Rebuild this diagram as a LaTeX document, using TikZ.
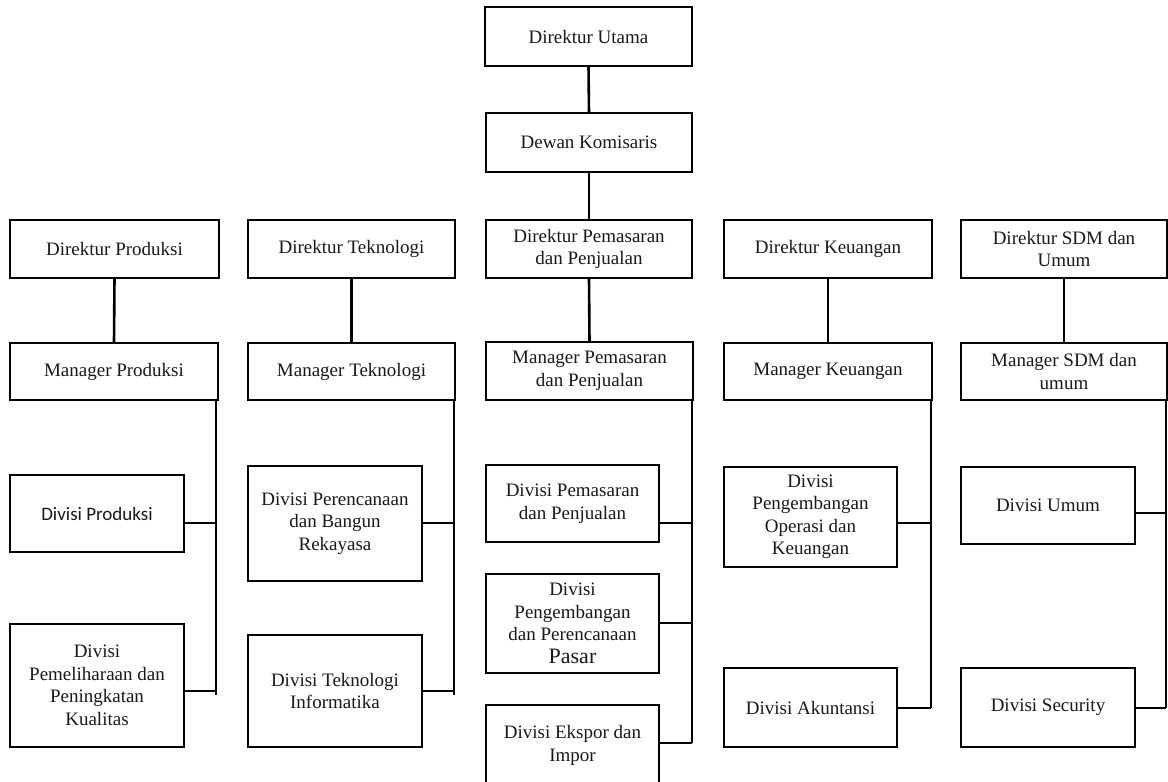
\documentclass[tikz,border=0pt]{standalone}
\usepackage{fontspec}
\setmainfont{Liberation Serif}
\newfontfamily\calfont{Carlito}
\newcommand\orgbox[6]{\node[box, minimum width={(#4-#2)*1pt}, minimum height={(#5-#3)*1pt}] (#1) at ({(#2+#4)/2},{(#3+#5)/2}) {#6};}
\begin{document}
\begin{tikzpicture}[x=1pt,y=-1pt,
  box/.style={draw=black, line width=2.6pt, fill=white, inner sep=0pt, outer sep=0pt, align=center,
    font=\fontsize{19}{22.5}\selectfont, text=black!90},
  link/.style={draw=black, line width=2.6pt}]
\useasboundingbox (0,0) rectangle (1168,782);
% top
\orgbox{du}{485}{7}{692}{66}{Direktur Utama}
\orgbox{dk}{486}{113}{692}{172}{Dewan Komisaris}
% directors
\orgbox{dprod}{10}{220}{219}{278}{Direktur Produksi}
\orgbox{dtek}{248}{220}{455}{278}{Direktur Teknologi}
\orgbox{dpem}{486}{220}{692}{278}{Direktur Pemasaran\\dan Penjualan}
\orgbox{dkeu}{724}{220}{932}{278}{Direktur Keuangan}
\orgbox{dsdm}{961}{220}{1167}{278}{Direktur SDM dan\\Umum}
% managers
\orgbox{mprod}{10}{343}{218}{400}{Manager Produksi}
\orgbox{mtek}{248}{343}{455}{400}{Manager Teknologi}
\orgbox{mpem}{486}{342}{693}{400}{Manager Pemasaran\\dan Penjualan}
\orgbox{mkeu}{724}{343}{932}{400}{Manager Keuangan}
\orgbox{msdm}{961}{343}{1167}{400}{Manager SDM dan\\umum}
% divisions
\orgbox{divprod}{10}{475}{184}{552}{\calfont Divisi Produksi}
\orgbox{divpem}{10}{624}{184}{747}{Divisi\\Pemeliharaan dan\\Peningkatan\\Kualitas}
\orgbox{divren}{248}{466}{422}{581}{Divisi Perencanaan\\dan Bangun\\Rekayasa}
\orgbox{divti}{248}{635}{422}{747}{Divisi Teknologi\\Informatika}
\orgbox{divpp}{486}{465}{659}{542}{Divisi Pemasaran\\dan Penjualan}
\orgbox{divppp}{486}{574}{659}{673}{Divisi\\Pengembangan\\dan Perencanaan\\{\fontsize{22}{24}\selectfont Pasar}}
\orgbox{divei}{486}{705}{659}{786}{Divisi Ekspor dan\\Impor}
\orgbox{divpok}{724}{467}{897}{567}{Divisi\\Pengembangan\\Operasi dan\\Keuangan}
\orgbox{divak}{724}{668}{897}{747}{Divisi Akuntansi}
\orgbox{divum}{961}{467}{1135}{544}{Divisi Umum}
\orgbox{divsec}{961}{668}{1135}{747}{Divisi Security}
% vertical links
\draw[link] (du.south) -- (dk.north);
\draw[link] (dk.south) -- (dpem.north);
\draw[link] (dprod.south) -- (mprod.north);
\draw[link] (dtek.south) -- (mtek.north);
\draw[link] (dpem.south) -- (mpem.north);
\draw[link] (dkeu.south) -- (mkeu.north);
\draw[link] (dsdm.south) -- (msdm.north);
% bus coordinates
\coordinate (a1) at (216,523); \coordinate (a2) at (216,691); \coordinate (aend) at (216,695);
\coordinate (b1) at (454,523); \coordinate (b2) at (454,691); \coordinate (bend) at (454,695);
\coordinate (c1) at (692,523); \coordinate (c2) at (692,623); \coordinate (c3) at (692,743);
\coordinate (d1) at (931,523); \coordinate (d2) at (931,708);
\coordinate (e1) at (1166,513); \coordinate (e2) at (1166,708);
% produksi
\draw[link] (mprod.south -| a1) -- (aend);
\draw[link] (divprod.east |- a1) -- (a1);
\draw[link] (divpem.east |- a2) -- (a2);
% teknologi
\draw[link] (mtek.south -| b1) -- (bend);
\draw[link] (divren.east |- b1) -- (b1);
\draw[link] (divti.east |- b2) -- (b2);
% pemasaran
\draw[link] (mpem.south -| c1) -- (c3);
\draw[link] (divpp.east |- c1) -- (c1);
\draw[link] (divppp.east |- c2) -- (c2);
\draw[link] (divei.east |- c3) -- (c3);
% keuangan
\draw[link] (mkeu.south -| d1) -- (d2);
\draw[link] (divpok.east |- d1) -- (d1);
\draw[link] (divak.east |- d2) -- (d2);
% sdm
\draw[link] (msdm.south -| e1) -- (e2);
\draw[link] (divum.east |- e1) -- (e1);
\draw[link] (divsec.east |- e2) -- (e2);
\end{tikzpicture}
\end{document}
